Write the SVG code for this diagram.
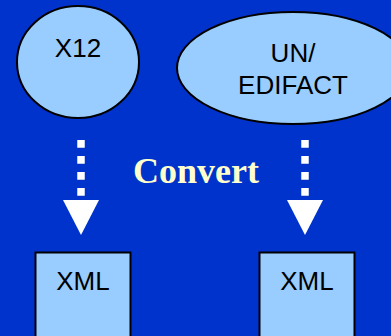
<svg xmlns="http://www.w3.org/2000/svg" width="391" height="336" viewBox="0 0 391 336">
<style>
.shape{fill:#99CCFF;stroke:#000;stroke-width:2}
.lbl{font-family:"Liberation Sans",Arial,sans-serif;font-size:26px;fill:#000;text-anchor:middle}
.conv{font-family:"Liberation Serif","Times New Roman",serif;font-size:36px;font-weight:bold;fill:#FFFFCC;text-anchor:middle}
.dots{stroke:#FFF;stroke-width:7.5;stroke-dasharray:7.7 8.3;fill:none}
</style>
<defs>
<marker id="head" markerUnits="userSpaceOnUse" markerWidth="36" markerHeight="36" refX="0" refY="0" orient="auto" overflow="visible">
<polygon points="0,-18 0,18 35,0" fill="#FFF"/>
</marker>
</defs>
<rect width="391" height="336" fill="#0033CC"/>
<g id="x12">
<ellipse class="shape" cx="78" cy="62" rx="61" ry="56"/>
<text class="lbl" x="78" y="57">X12</text>
</g>
<g id="edifact">
<ellipse class="shape" cx="293" cy="68" rx="116" ry="56"/>
<text class="lbl" x="293" y="62">UN/</text>
<text class="lbl" x="293" y="93.5">EDIFACT</text>
</g>
<g id="xml1">
<rect class="shape" x="35.5" y="252.5" width="95" height="100"/>
<text class="lbl" x="83" y="289.5">XML</text>
</g>
<g id="xml2">
<rect class="shape" x="259.5" y="252.5" width="95" height="100"/>
<text class="lbl" x="307" y="289.5">XML</text>
</g>
<g id="connectors">
<line class="dots" x1="81" y1="140" x2="81" y2="200" marker-end="url(#head)"/>
<line class="dots" x1="305" y1="140" x2="305" y2="200" marker-end="url(#head)"/>
</g>
<text class="conv" x="196" y="182.7">Convert</text>
</svg>
